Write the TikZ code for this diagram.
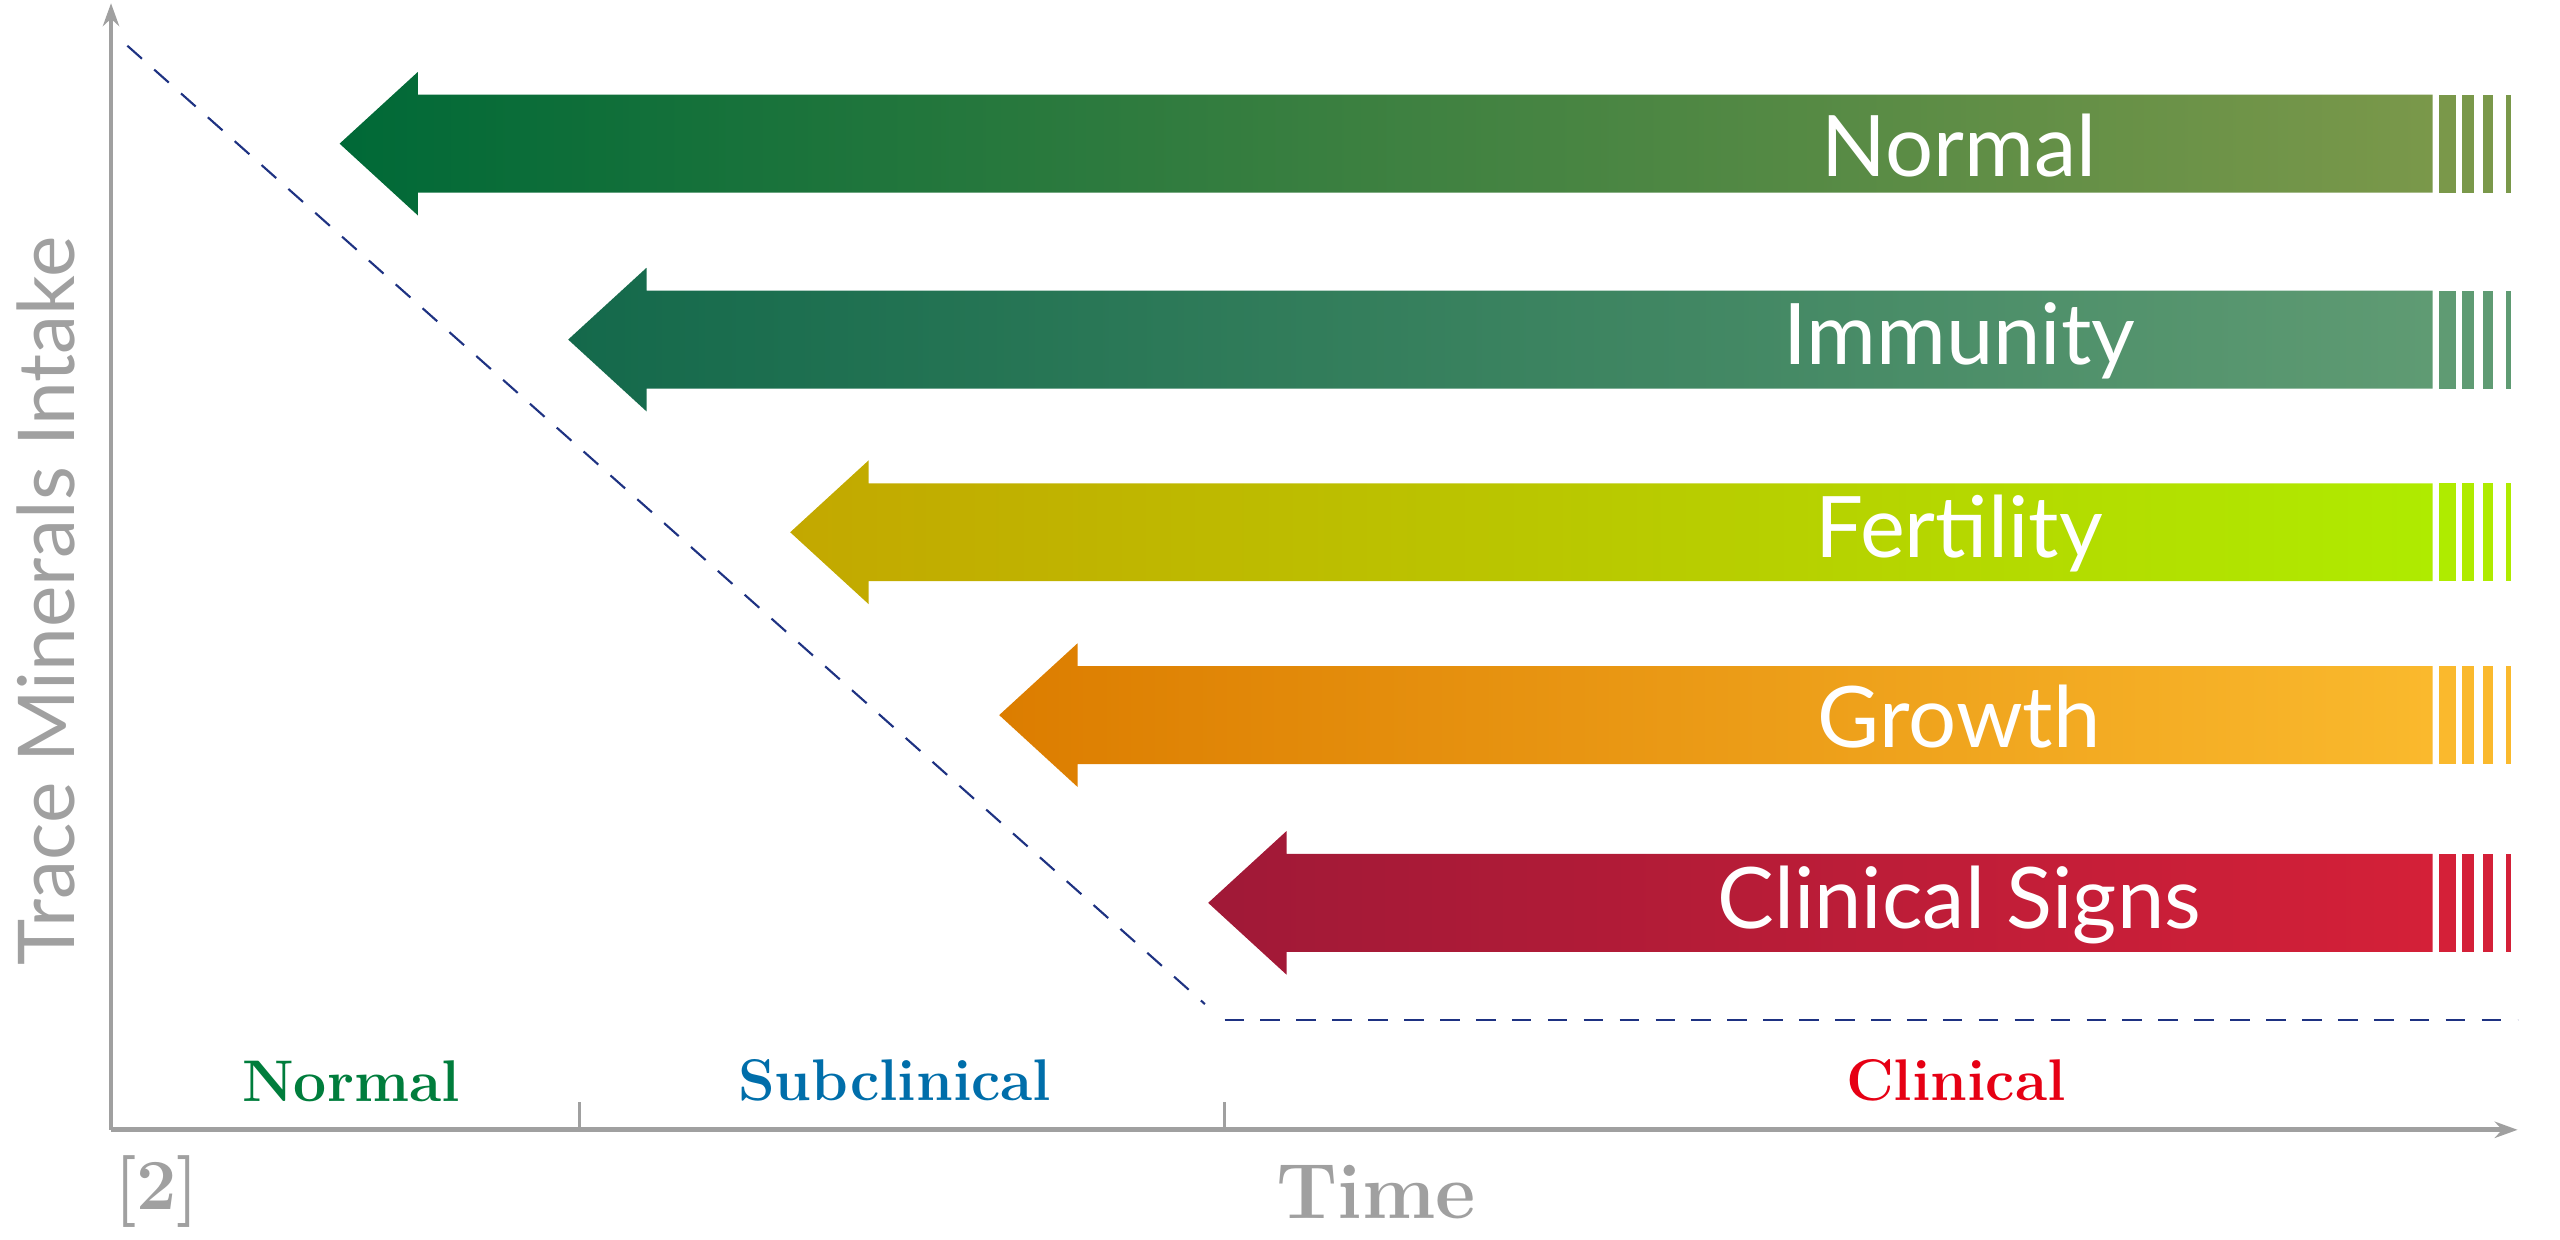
\documentclass[tikz,border=0pt]{standalone}
\usepackage{fontspec}
\setsansfont{Lato}
\usetikzlibrary{positioning}
\usepgflibrary{arrows.meta}
\definecolor{axisgray}{RGB}{160,160,160}
\definecolor{dashblue}{RGB}{30,50,130}
\definecolor{normgreen}{RGB}{0,125,60}
\definecolor{subblue}{RGB}{0,110,170}
\definecolor{clinred}{RGB}{230,0,20}
\begin{document}
\begin{tikzpicture}[x=1pt, y=-1pt, thick,
    axis/.style={draw=axisgray, line width=3pt, -{Stealth[length=14pt, width=10pt]}},
    limit/.style={draw=dashblue, line width=1.3pt, dash pattern=on 12pt off 10pt},
    band/.style={font=\sffamily\fontsize{52}{58}\selectfont, text=white},
    phase/.style={font=\bfseries\fontsize{36}{42}\selectfont}]
    \useasboundingbox (0, 0) rectangle (1568, 759);

    \coordinate (origin) at (68, 692);
    \coordinate (ytop) at (68, 2);
    \coordinate (xend) at (1542, 692);

    % axes
    \path[axis] (origin) -- (ytop);
    \path[axis] (origin) -- (xend);
    \path[draw=axisgray, line width=2pt] (355, 675) -- (355, 692);
    \path[draw=axisgray, line width=2pt] (750, 675) -- (750, 692);

    \node[rotate=90, text=axisgray, font=\sffamily\fontsize{48}{54}\selectfont] (ylabel) at (28, 368) {Trace Minerals Intake};
    \node[text=axisgray, font=\bfseries\fontsize{44}{50}\selectfont] (ref) at (96, 730) {[2]};
    \node[text=axisgray, font=\bfseries\fontsize{48}{54}\selectfont] (time) at (843, 730) {Time};

    \node[phase, text=normgreen] (pnormal) at (215, 662) {Normal};
    \node[phase, text=subblue] (psub) at (548, 662) {Subclinical};
    \node[phase, text=clinred] (pclin) at (1198, 662) {Clinical};

    % limit line
    \path[limit] (78, 28) -- (738, 615);
    \path[limit] (750, 625) -- (1542, 625);

    % arrows
    \foreach \tip/\top/\lc/\mc/\rc/\txt in {
        208/58/{0,105,55}/{65,135,65}/{122,152,74}/Normal,
        348/178/{20,105,75}/{70,140,100}/{95,155,115}/Immunity,
        484/296/{195,168,0}/{185,200,0}/{175,235,0}/Fertility,
        612/408/{220,125,0}/{235,155,25}/{250,185,45}/Growth,
        740/523/{160,25,55}/{208,32,56}/{212,32,56}/Clinical Signs} {
      \definecolor{lcol}{RGB}{\lc}
      \definecolor{mcol}{RGB}{\mc}
      \definecolor{rcol}{RGB}{\rc}
      \path[left color=lcol, middle color=mcol, right color=rcol]
        (\tip, \top+30) -- (\tip+48, \top-14) -- (\tip+48, \top) -- (1490, \top)
        -- (1490, \top+60) -- (\tip+48, \top+60) -- (\tip+48, \top+74) -- cycle;
      \foreach \a/\b in {1494/1504, 1508/1515, 1521/1527, 1535/1538}
        \path[fill=rcol] (\a, \top) rectangle (\b, \top+60);
      \node[band] at (1200, \top+31) {\txt};
    }
\end{tikzpicture}
\end{document}
